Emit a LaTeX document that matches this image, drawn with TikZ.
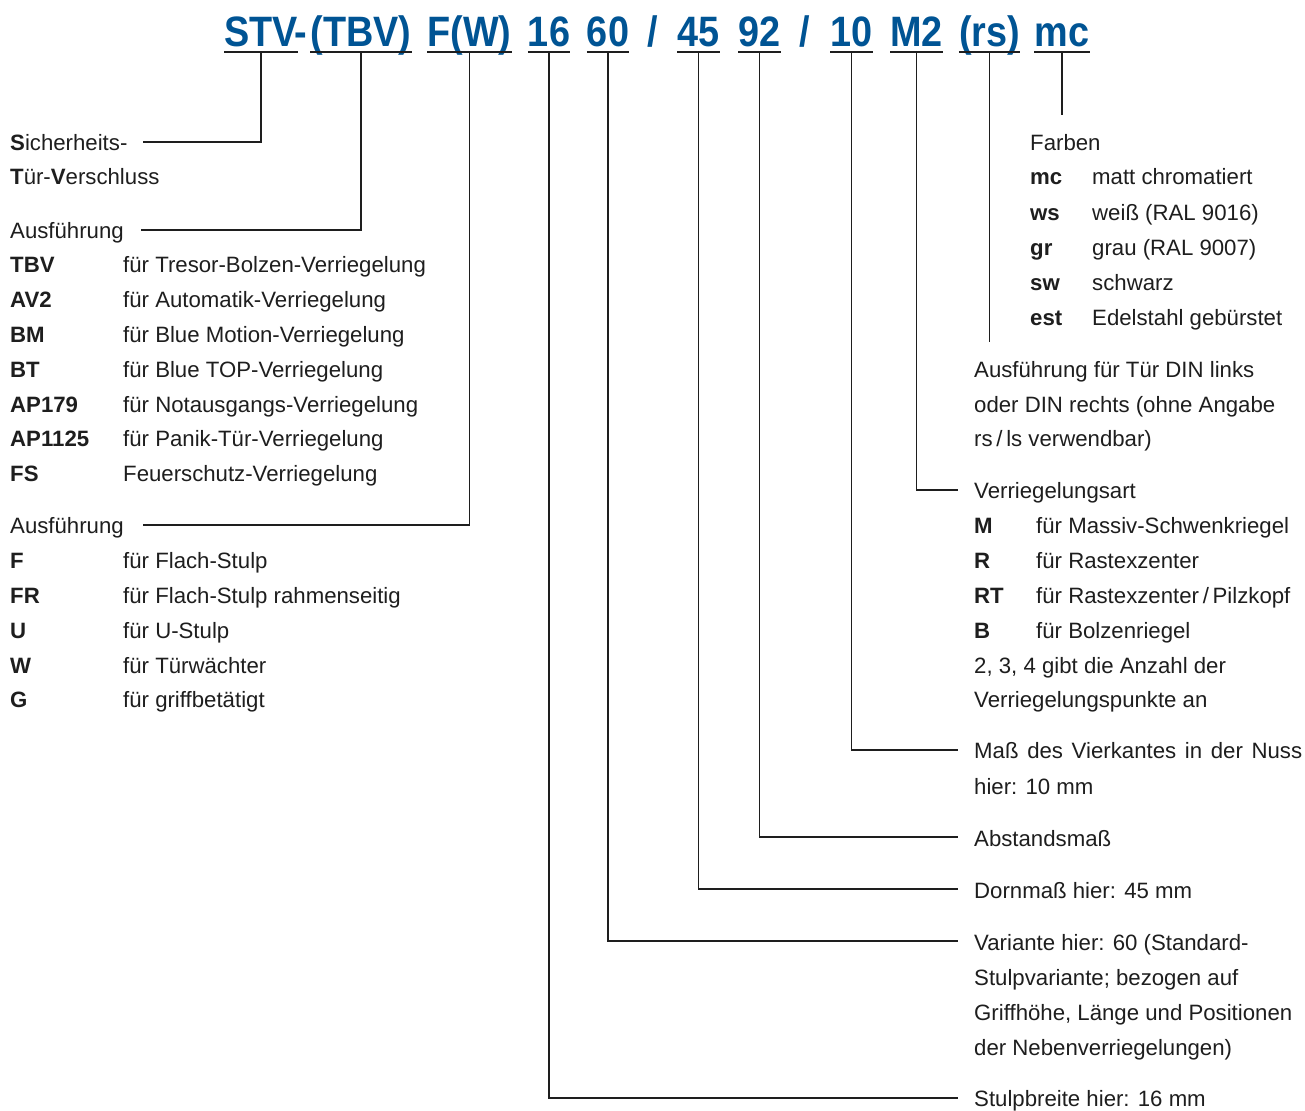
\documentclass[tikz,border=0pt]{standalone}
\usepackage{fontspec}
\usepackage{graphicx}
\setmainfont{Liberation Sans}
\definecolor{hblue}{RGB}{0,84,148}
\definecolor{txt}{RGB}{30,30,30}
\newcommand{\hsq}[1]{\scalebox{0.89}[1]{#1}}
\begin{document}
\begin{tikzpicture}[x=1pt,y=-1pt,
 seg/.style={anchor=base,inner sep=0pt,text=hblue,font=\fontsize{42.5}{42}\selectfont\bfseries},
 lbl/.style={anchor=base west,inner sep=0pt,text=txt,font=\fontsize{22.2}{26}\selectfont},
 uline/.style={line width=2.6pt,draw=txt},
 conn/.style={line width=1.2pt,draw=txt}]
\useasboundingbox[fill=white] (0,0) rectangle (1305,1110);

% header segments
\node[seg] (h1) at (261,47) {\hsq{STV}};
\node[seg] (hd) at (301,47) {\hsq{-}};
\node[seg] (h2) at (361,47) {\hsq{(TBV)}};
\node[seg] (h3) at (469.5,47) {\hsq{F(W)}};
\node[seg] (h4) at (549,47) {\hsq{16}};
\node[seg] (h5) at (608,47) {\hsq{60}};
\node[seg] (hs1) at (653,47) {\hsq{/}};
\node[seg] (h6) at (698.5,47) {\hsq{45}};
\node[seg] (h7) at (759.5,47) {\hsq{92}};
\node[seg] (hs2) at (805,47) {\hsq{/}};
\node[seg] (h8) at (851.5,47) {\hsq{10}};
\node[seg] (h9) at (916.5,47) {\hsq{M2}};
\node[seg] (h10) at (989.5,47) {\hsq{(rs)}};
\node[seg] (h11) at (1062,47) {\hsq{mc}};
\foreach \n in {h1,h2,h3,h4,h5,h6,h7,h8,h9,h10,h11}
  \draw[uline] ([yshift=-5pt]\n.base west) -- ([yshift=-5pt]\n.base east);

% connector end points
\coordinate (c1) at (143,142);
\coordinate (c2) at (141,230);
\coordinate (c3) at (143,525);
\coordinate (c4) at (958,1098);
\coordinate (c5) at (958,941);
\coordinate (c6) at (958,889);
\coordinate (c7) at (958,837);
\coordinate (c8) at (958,750);
\coordinate (c9) at (958,490);
\coordinate (c10) at (989.5,342);
\coordinate (c11) at (1062,115);
\draw[conn] ([yshift=-5pt]h1.base) |- (c1);
\draw[conn] ([yshift=-5pt]h2.base) |- (c2);
\draw[conn] ([yshift=-5pt]h3.base) |- (c3);
\draw[conn] ([yshift=-5pt]h4.base) |- (c4);
\draw[conn] ([yshift=-5pt]h5.base) |- (c5);
\draw[conn] ([yshift=-5pt]h6.base) |- (c6);
\draw[conn] ([yshift=-5pt]h7.base) |- (c7);
\draw[conn] ([yshift=-5pt]h8.base) |- (c8);
\draw[conn] ([yshift=-5pt]h9.base) |- (c9);
\draw[conn] ([yshift=-5pt]h10.base) -- (c10);
\draw[conn] ([yshift=-5pt]h11.base) -- (c11);

% left column
\node[lbl] (l1) at (10,151) {\textbf{S}icherheits-};
\node[lbl] (l2) at (10,185) {\textbf{T}ür-\textbf{V}erschluss};
\node[lbl] (l3) at (10,238) {Ausführung};
\node[lbl] (k1) at (10,272) {\textbf{TBV}};
\node[lbl] (v1) at (123,272) {für Tresor-Bolzen-Verriegelung};
\node[lbl] (k2) at (10,307) {\textbf{AV2}};
\node[lbl] (v2) at (123,307) {für Automatik-Verriegelung};
\node[lbl] (k3) at (10,342) {\textbf{BM}};
\node[lbl] (v3) at (123,342) {für Blue Motion-Verriegelung};
\node[lbl] (k4) at (10,377) {\textbf{BT}};
\node[lbl] (v4) at (123,377) {für Blue TOP-Verriegelung};
\node[lbl] (k5) at (10,412) {\textbf{AP179}};
\node[lbl] (v5) at (123,412) {für Notausgangs-Verriegelung};
\node[lbl] (k6) at (10,446) {\textbf{AP1125}};
\node[lbl] (v6) at (123,446) {für Panik-Tür-Verriegelung};
\node[lbl] (k7) at (10,481) {\textbf{FS}};
\node[lbl] (v7) at (123,481) {Feuerschutz-Verriegelung};
\node[lbl] (l4) at (10,533) {Ausführung};
\node[lbl] (k8) at (10,568) {\textbf{F}};
\node[lbl] (v8) at (123,568) {für Flach-Stulp};
\node[lbl] (k9) at (10,603) {\textbf{FR}};
\node[lbl] (v9) at (123,603) {für Flach-Stulp rahmenseitig};
\node[lbl] (k10) at (10,638) {\textbf{U}};
\node[lbl] (v10) at (123,638) {für U-Stulp};
\node[lbl] (k11) at (10,673) {\textbf{W}};
\node[lbl] (v11) at (123,673) {für Türwächter};
\node[lbl] (k12) at (10,707) {\textbf{G}};
\node[lbl] (v12) at (123,707) {für griffbetätigt};

% right column: colours
\node[lbl] (r1) at (1030,151) {Farben};
\node[lbl] (fk1) at (1030,185) {\textbf{mc}};
\node[lbl] (fv1) at (1092,185) {matt chromatiert};
\node[lbl] (fk2) at (1030,220) {\textbf{ws}};
\node[lbl] (fv2) at (1092,220) {weiß (RAL 9016)};
\node[lbl] (fk3) at (1030,255) {\textbf{gr}};
\node[lbl] (fv3) at (1092,255) {grau (RAL 9007)};
\node[lbl] (fk4) at (1030,290) {\textbf{sw}};
\node[lbl] (fv4) at (1092,290) {schwarz};
\node[lbl] (fk5) at (1030,325) {\textbf{est}};
\node[lbl] (fv5) at (1092,325) {Edelstahl gebürstet};

% right column: rest
\node[lbl] (r2) at (974,377) {Ausführung für Tür DIN links};
\node[lbl] (r3) at (974,412) {oder DIN rechts (ohne Angabe};
\node[lbl] (r4) at (974,446) {rs\,/\,ls verwendbar)};
\node[lbl] (r5) at (974,498) {Verriegelungsart};
\node[lbl] (mk1) at (974,533) {\textbf{M}};
\node[lbl] (mv1) at (1036,533) {für Massiv-Schwenkriegel};
\node[lbl] (mk2) at (974,568) {\textbf{R}};
\node[lbl] (mv2) at (1036,568) {für Rastexzenter};
\node[lbl] (mk3) at (974,603) {\textbf{RT}};
\node[lbl] (mv3) at (1036,603) {für Rastexzenter\,/\,Pilzkopf};
\node[lbl] (mk4) at (974,638) {\textbf{B}};
\node[lbl] (mv4) at (1036,638) {für Bolzenriegel};
\node[lbl] (r6) at (974,673) {2, 3, 4 gibt die Anzahl der};
\node[lbl] (r7) at (974,707) {Verriegelungspunkte an};
\node[lbl] (r8) at (974,758) {\makebox[328pt][s]{Maß des Vierkantes in der Nuss}};
\node[lbl] (r9) at (974,794) {hier: 10 mm};
\node[lbl] (r10) at (974,846) {Abstandsmaß};
\node[lbl] (r11) at (974,898) {Dornmaß hier: 45 mm};
\node[lbl] (r12) at (974,950) {Variante hier: 60 (Standard-};
\node[lbl] (r13) at (974,985) {Stulpvariante; bezogen auf};
\node[lbl] (r14) at (974,1020) {Griffhöhe, Länge und Positionen};
\node[lbl] (r15) at (974,1055) {der Nebenverriegelungen)};
\node[lbl] (r16) at (974,1106) {Stulpbreite hier: 16 mm};
\end{tikzpicture}
\end{document}
